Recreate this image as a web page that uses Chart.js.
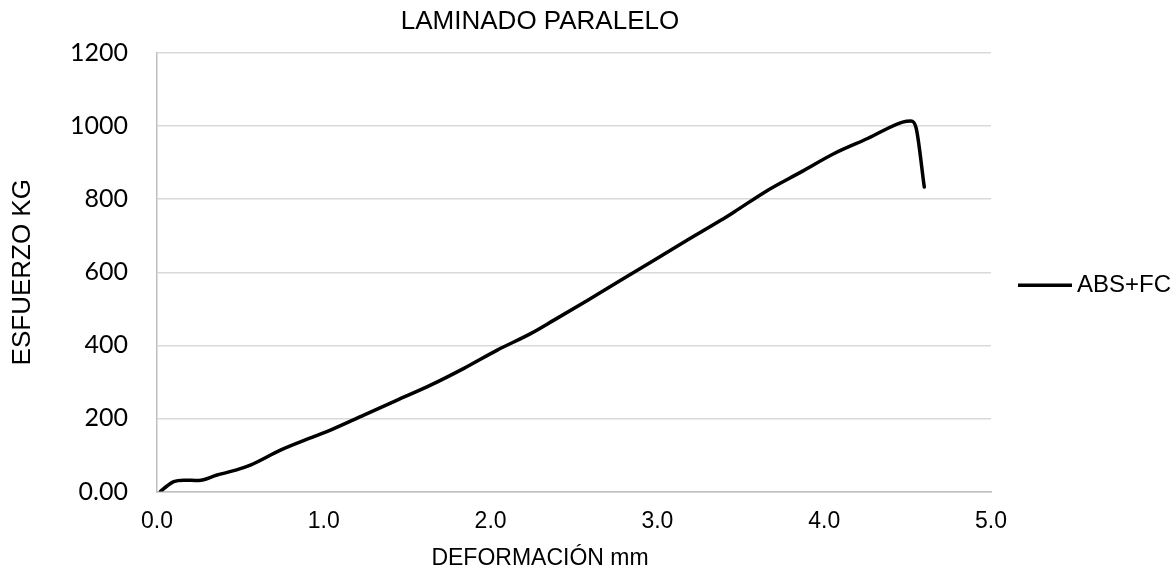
<!DOCTYPE html>
<html>
<head>
<meta charset="utf-8">
<script src="https://cdn.jsdelivr.net/npm/chart.js@4/dist/chart.umd.min.js"></script>
<style>
    html, body { margin: 0; padding: 0; background: #fff; }
    #wrap { width: 1176px; height: 572px; }
</style>
</head>
<body>
<div id="wrap"><canvas id="curvaChart"></canvas></div>
<script>
// Datos
const titulo = 'LAMINADO PARALELO';
const tituloX = 'DEFORMACIÓN mm';
const tituloY = 'ESFUERZO KG';
const serieNombre = 'ABS+FC';
const deformacion = [0.02, 0.06, 0.10, 0.16, 0.25, 0.36, 0.46, 0.56, 0.74, 0.94, 1.04, 1.24, 1.44, 1.64, 1.84, 2.04, 2.24, 2.38, 2.58, 2.78, 2.98, 3.18, 3.38, 3.46, 3.66, 3.86, 4.06, 4.26, 4.47, 4.52, 4.55, 4.60];
const esfuerzo = [0, 15, 27, 31, 30, 45, 57, 72, 113, 150, 168, 209, 250, 291, 337, 387, 432, 469, 523, 578, 633, 688, 742, 765, 824, 874, 925, 966, 1011, 1014, 997, 833];
const xTicks = [0, 1, 2, 3, 4, 5];
const yTicks = [0, 200, 400, 600, 800, 1000, 1200];

document.addEventListener('DOMContentLoaded', () => {
    const puntos = deformacion.map((x, i) => ({ x, y: esfuerzo[i] }));
    const arial = '"Liberation Sans", Arial, sans-serif';

    // Leyenda a la derecha (linea + texto)
    const leyendaDerecha = {
        id: 'leyendaDerecha',
        afterDraw(chart) {
            const { ctx, chartArea } = chart;
            const ds = chart.data.datasets[0];
            const x0 = chartArea.right + 27;
            const y0 = (chartArea.top + chartArea.bottom) / 2 + 13;
            ctx.save();
            ctx.strokeStyle = ds.borderColor;
            ctx.lineWidth = 3.5;
            ctx.beginPath();
            ctx.moveTo(x0, y0);
            ctx.lineTo(x0 + 54, y0);
            ctx.stroke();
            ctx.fillStyle = '#000';
            ctx.font = '24px ' + arial;
            ctx.textBaseline = 'middle';
            ctx.fillText(ds.label, x0 + 59, y0);
            ctx.restore();
        }
    };

    const ctx = document.getElementById('curvaChart').getContext('2d');
    new Chart(ctx, {
        type: 'scatter',
        data: {
            datasets: [{
                label: serieNombre,
                data: puntos,
                showLine: true,
                borderColor: '#000',
                backgroundColor: '#000',
                borderWidth: 3.5,
                borderJoinStyle: 'round',
                borderCapStyle: 'round',
                pointRadius: 0,
                cubicInterpolationMode: 'monotone'
            }]
        },
        options: {
            responsive: true,
            maintainAspectRatio: false,
            animation: false,
            layout: { padding: { left: 0, right: 96, top: 0, bottom: 0 } },
            plugins: {
                legend: { display: false },
                tooltip: { enabled: false },
                title: {
                    display: true,
                    text: titulo,
                    color: '#000',
                    font: { family: arial, size: 26, weight: 'normal', lineHeight: 1.2 },
                    padding: { top: 6, bottom: 15.8 }
                },
                subtitle: {
                    display: true,
                    position: 'bottom',
                    text: tituloX,
                    color: '#000',
                    font: { family: arial, size: 23, weight: 'normal', lineHeight: 1.2 },
                    padding: { top: 0, bottom: 0 }
                }
            },
            scales: {
                x: {
                    type: 'linear',
                    min: 0,
                    max: 5,
                    afterBuildTicks: (scale) => { scale.ticks = xTicks.map(v => ({ value: v })); },
                    afterFit: (scale) => { scale.height = 52.9; },
                    grid: { color: 'transparent', drawTicks: false },
                    border: { display: true, color: '#bfbfbf', width: 1.5 },
                    ticks: {
                        color: '#000',
                        padding: 16,
                        font: { family: arial, size: 23 },
                        callback: (v) => Number(v).toFixed(1)
                    }
                },
                y: {
                    type: 'linear',
                    min: 0,
                    max: 1200,
                    afterBuildTicks: (scale) => { scale.ticks = yTicks.map(v => ({ value: v })); },
                    afterFit: (scale) => { scale.width = 157; },
                    grid: { color: '#d9d9d9', lineWidth: 1.5, drawTicks: false },
                    border: { display: true, color: '#bfbfbf', width: 1.5 },
                    ticks: {
                        color: '#000',
                        padding: 29,
                        font: { family: 'Lato, "Liberation Sans", sans-serif', size: 25 },
                        callback: (v) => (v === 0 ? '0.00' : String(v))
                    },
                    title: {
                        display: true,
                        text: tituloY,
                        color: '#000',
                        font: { family: arial, size: 26, lineHeight: 1.2 },
                        padding: { top: 7, bottom: 0 }
                    }
                },
                // espacio vacio a la derecha para la leyenda
                yDer: {
                    type: 'linear',
                    position: 'right',
                    min: 0,
                    max: 1200,
                    afterFit: (scale) => { scale.width = 89; },
                    grid: { display: false, drawTicks: false },
                    border: { display: false },
                    ticks: { display: false }
                }
            }
        },
        plugins: [leyendaDerecha]
    });
});
</script>
</body>
</html>
